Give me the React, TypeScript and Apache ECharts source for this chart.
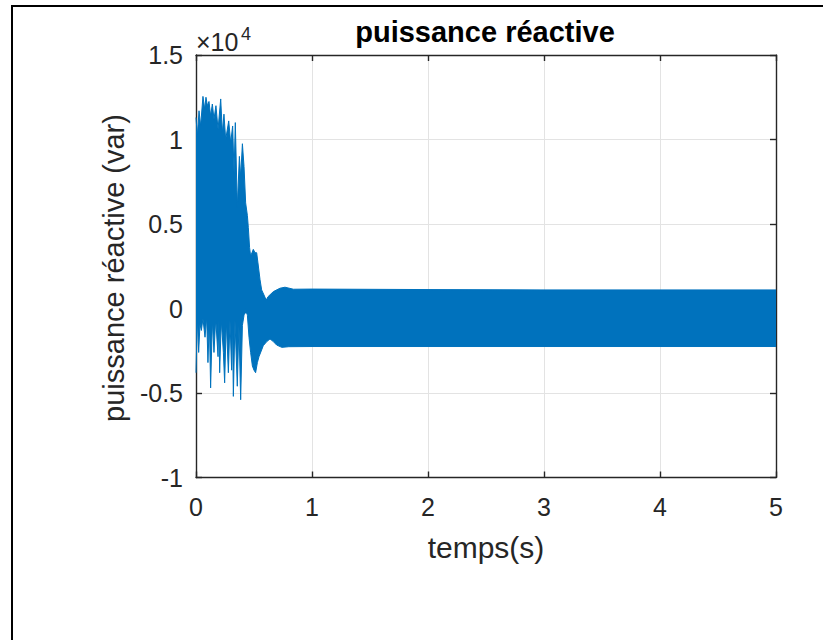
import React, { useEffect, useRef } from "react";
import * as echarts from "echarts";

// Axis ticks (time in s, reactive power in units of 1e4 var)
const timeTicks = [0, 1, 2, 3, 4, 5];
const powerTicks = [-1, -0.5, 0, 0.5, 1, 1.5];

// Upper envelope of the oscillating reactive power (×1e4 var)
const upperT = [0, 0.0115, 0.026, 0.04, 0.06, 0.075, 0.086, 0.098, 0.112, 0.126,
  0.141, 0.155, 0.172, 0.19, 0.213, 0.227, 0.241, 0.256, 0.282, 0.299,
  0.316, 0.328, 0.339, 0.356, 0.374, 0.385, 0.4, 0.414, 0.428, 0.443,
  0.451, 0.462, 0.471, 0.494, 0.509, 0.523, 0.534, 0.552, 0.566, 0.586,
  0.605, 0.621, 0.667, 0.724, 0.767, 0.84, 1.0, 2.0, 3.0, 4.0, 5.0];
const upperV = [1.13, 1.02, 1.17, 1.08, 1.255, 1.18, 1.25, 1.2, 1.225, 1.14,
  1.21, 1.12, 1.2, 1.06, 1.24, 1.04, 1.15, 1.0, 1.11, 0.98,
  1.08, 0.8, 1.1, 0.6, 0.9, 0.78, 0.975, 0.84, 0.625, 0.55,
  0.48, 0.36, 0.31, 0.35, 0.33, 0.33, 0.27, 0.17, 0.11, 0.08,
  0.05, 0.07, 0.1, 0.12, 0.126, 0.114, 0.115, 0.112, 0.11, 0.11, 0.11];

// Lower envelope of the oscillating reactive power (×1e4 var)
const lowerT = [0, 0.006, 0.0115, 0.023, 0.0345, 0.046, 0.06, 0.0776, 0.092, 0.103,
  0.115, 0.126, 0.141, 0.155, 0.17, 0.19, 0.197, 0.204, 0.218, 0.236, 0.247,
  0.261, 0.279, 0.293, 0.307, 0.314, 0.322, 0.336, 0.356, 0.37, 0.385, 0.4,
  0.414, 0.428, 0.443, 0.457, 0.471, 0.486, 0.5, 0.514, 0.529, 0.543,
  0.58, 0.61, 0.638, 0.667, 0.695, 0.74, 0.8, 1.0, 2.0, 3.0, 4.0, 5.0];
const lowerV = [-0.38, -0.38, -0.05, -0.26, -0.09, -0.13, -0.06, -0.17, -0.05, -0.32,
  -0.07, -0.47, -0.07, -0.26, -0.06, -0.285, -0.07, -0.38, -0.07, -0.26, -0.44,
  -0.07, -0.38, -0.07, -0.365, -0.07, -0.52, -0.07, -0.46, -0.1, -0.54, -0.1,
  -0.04, 0.0, -0.04, -0.17, -0.26, -0.34, -0.365, -0.38, -0.32, -0.285,
  -0.22, -0.196, -0.18, -0.196, -0.216, -0.23, -0.226, -0.225, -0.225, -0.225, -0.225, -0.225];

const BLUE = "#0072BD";
const AXIS = "#262626";
const FONT = "'Liberation Sans', Arial, Helvetica, sans-serif";

export default function App() {
  const ref = useRef<HTMLDivElement>(null);
  useEffect(() => {
    document.body.style.margin = "0";
    const chart = echarts.init(ref.current!, null, { renderer: "svg" });
    const xMin = timeTicks[0];
    const xMax = timeTicks[timeTicks.length - 1];
    const xInt = timeTicks[1] - timeTicks[0];
    const yMin = powerTicks[0];
    const yMax = powerTicks[powerTicks.length - 1];
    const yInt = powerTicks[1] - powerTicks[0];
    const axisLine = { show: true, onZero: false, lineStyle: { color: AXIS, width: 1.4 } };
    const tick = { show: true, inside: true, length: 6, lineStyle: { color: AXIS, width: 1.4 } };
    const grid = { show: true, lineStyle: { color: "#e3e3e3", width: 1 } };
    const label = { color: AXIS, fontSize: 25, fontFamily: FONT };

    chart.setOption({
      animation: false,
      backgroundColor: "#ffffff",
      grid: { left: 196, top: 55, width: 580, height: 422.5 },
      xAxis: [
        {
          type: "value", min: xMin, max: xMax, interval: xInt, position: "bottom",
          axisLine, axisTick: tick, splitLine: grid,
          axisLabel: { ...label, margin: 17 },
        },
        {
          type: "value", min: xMin, max: xMax, interval: xInt, position: "top",
          axisLine, axisTick: tick, splitLine: { show: false }, axisLabel: { show: false },
        },
      ],
      yAxis: [
        {
          type: "value", min: yMin, max: yMax, interval: yInt, position: "left",
          axisLine, axisTick: tick, splitLine: grid,
          axisLabel: { ...label, margin: 13 },
        },
        {
          type: "value", min: yMin, max: yMax, interval: yInt, position: "right",
          axisLine, axisTick: tick, splitLine: { show: false }, axisLabel: { show: false },
        },
      ],
      series: [
        {
          type: "line", silent: true, symbol: "none",
          data: upperT.map((t, i) => [t, upperV[i]]),
          lineStyle: { color: BLUE, width: 1 },
          areaStyle: { color: BLUE, opacity: 1, origin: -0.03 },
        },
        {
          type: "line", silent: true, symbol: "none",
          data: lowerT.map((t, i) => [t, lowerV[i]]),
          lineStyle: { color: BLUE, width: 1 },
          areaStyle: { color: BLUE, opacity: 1, origin: 0.03 },
        },
      ],
      graphic: [
        { type: "line", shape: { x1: 11, y1: 6, x2: 823, y2: 6 }, style: { stroke: "#000", lineWidth: 2 } },
        { type: "line", shape: { x1: 12, y1: 5, x2: 12, y2: 640 }, style: { stroke: "#000", lineWidth: 2 } },
        {
          type: "text", x: 485, y: 32,
          style: { text: "puissance réactive", fontSize: 29, fontWeight: "bold", fontFamily: FONT, fill: "#000", align: "center", verticalAlign: "middle" },
        },
        {
          type: "text", x: 196, y: 42,
          style: { text: "×10", fontSize: 25, fontFamily: FONT, fill: AXIS, align: "left", verticalAlign: "middle" },
        },
        {
          type: "text", x: 241, y: 34,
          style: { text: "4", fontSize: 18, fontFamily: FONT, fill: AXIS, align: "left", verticalAlign: "middle" },
        },
        {
          type: "text", x: 114, y: 268, rotation: Math.PI / 2,
          style: { text: "puissance réactive (var)", fontSize: 29, fontFamily: FONT, fill: AXIS, align: "center", verticalAlign: "middle" },
        },
        {
          type: "text", x: 486, y: 547,
          style: { text: "temps(s)", fontSize: 30, fontFamily: FONT, fill: AXIS, align: "center", verticalAlign: "middle" },
        },
      ],
    });
    return () => chart.dispose();
  }, []);
  return <div ref={ref} style={{ width: 833, height: 640 }} />;
}
